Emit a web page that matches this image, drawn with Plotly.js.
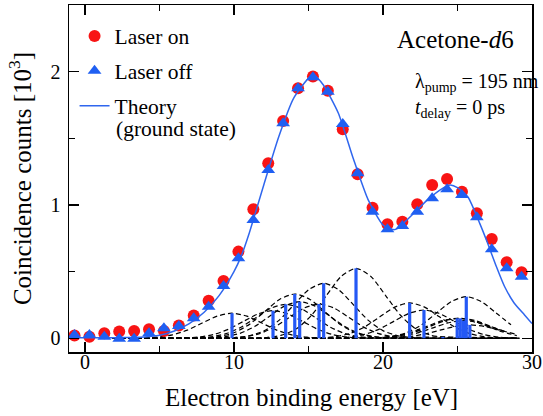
<!DOCTYPE html>
<html><head><meta charset="utf-8">
<script src="https://cdn.plot.ly/plotly-3.0.1.min.js"></script>
<style>html,body{margin:0;padding:0;background:#fff}#chart{width:543px;height:416px}</style>
</head><body><div id="chart"></div>
<script>
// Measured data (electron binding energy in eV, counts in 10^3)
const energy = [-0.7,0.3,1.3,2.3,3.3,4.3,5.3,6.3,7.3,8.3,9.3,10.3,11.3,12.3,13.3,14.3,15.3,16.3,17.3,18.3,19.3,20.3,21.3,22.3,23.3,24.3,25.3,26.3,27.3,28.3,29.3];
const laserOn = [0.02,0.012,0.038,0.05,0.055,0.068,0.055,0.095,0.17,0.282,0.43,0.65,0.968,1.313,1.63,1.875,1.963,1.857,1.568,1.23,0.98,0.855,0.875,1.005,1.15,1.195,1.1,0.938,0.745,0.57,0.495];
const laserOff = [0.025,0.025,0.012,-0.004,-0.004,0.038,0.075,0.092,0.15,0.237,0.392,0.6,0.887,1.263,1.613,1.875,1.958,1.85,1.608,1.238,0.95,0.818,0.842,0.95,1.05,1.118,1.075,0.908,0.668,0.525,0.462];
// Theory (ground state) curve
const theoryE = [-1.07,0,1,2,3,4,5,6,7,8,9,10,10.5,11,12,13,14,15,15.4,16,17,18,19,20,20.7,21,22,23,24,24.5,25,25.7,26.5,27,27.6,28.15,28.8,29.5,30];
const theoryCounts = [0.003,0.003,0.003,0.004,0.006,0.01,0.022,0.055,0.11,0.195,0.32,0.5,0.62,0.78,1.15,1.51,1.8,1.95,1.97,1.9,1.69,1.35,1.04,0.85,0.815,0.825,0.93,1.04,1.125,1.15,1.13,1.06,0.86,0.72,0.54,0.39,0.265,0.175,0.11];
// Theoretical ionisation lines (sticks)
const stickE = [9.87,12.62,13.47,14.08,14.41,15.71,16.02,18.19,21.79,22.75,24.02,24.98,25.19,25.41,25.59,25.83];
const stickH = [0.188,0.207,0.255,0.332,0.275,0.257,0.413,0.525,0.265,0.212,0.01,0.15,0.15,0.132,0.312,0.1];
// Normalised line shape of one broadened component
const profileOffset = [-8.5,-7,-6,-5,-4,-3,-2,-1,0,1,2,3,4,5,6,7,8.5];
const profileRel = [0,0.002,0.011,0.044,0.135,0.325,0.607,0.883,1,0.883,0.607,0.325,0.135,0.044,0.011,0.002,0];
const componentRange = [1.3,29.15];
const xTickVals = [0,10,20,30];
const yTickVals = [0,1,2];

const FONT = 'Liberation Serif';
const traces = [];

// dashed component curves
stickE.forEach((c,i) => {
  const xs = [], ys = [];
  xs.push(componentRange[0]); ys.push(0);
  profileOffset.forEach((o,k) => {
    const x = c + o;
    if (x > componentRange[0] && x <= componentRange[1]) { xs.push(x); ys.push(stickH[i]*profileRel[k]); }
  });
  if (c + profileOffset[profileOffset.length-1] <= componentRange[1]) { xs.push(componentRange[1]); ys.push(0); }
  traces.push({x: xs, y: ys, type:'scatter', mode:'lines', showlegend:false, hoverinfo:'skip',
    line:{color:'#000', width:1.2, dash:'5px,3px', shape:'spline', smoothing:0.7}});
});

// sticks
const sx = [], sy = [];
stickE.forEach((c,i) => { sx.push(c, c, null); sy.push(0, stickH[i], null); });
traces.push({x: sx, y: sy, type:'scatter', mode:'lines', showlegend:false, hoverinfo:'skip',
  line:{color:'#2458f5', width:3.2}});

traces.push({x: energy, y: laserOn, type:'scatter', mode:'markers', name:'Laser on', legendgroup:'a', legendrank:1,
  marker:{symbol:'circle', size:12, color:'#f81414'}});
traces.push({x: theoryE, y: theoryCounts, type:'scatter', mode:'lines', name:'Theory', legendgroup:'c', legendrank:3,
  line:{color:'#2f66ee', width:1.5, shape:'spline', smoothing:0.6}});
traces.push({x: energy, y: laserOff, type:'scatter', mode:'markers', name:'Laser off', legendgroup:'b', legendrank:2,
  marker:{symbol:'triangle-up', size:12, color:'#1f5ff2'}});

const axisCommon = {showline:true, linecolor:'#000', linewidth:1.5, mirror:'ticks', ticks:'inside',
  ticklen:10, tickwidth:1.3, tickcolor:'#000', showgrid:false, zeroline:false,
  tickfont:{family:FONT, size:20, color:'#000'}};

const layout = {
  width:543, height:416,
  margin:{l:69, r:10.5, t:5, b:64},
  paper_bgcolor:'#fff', plot_bgcolor:'#fff',
  font:{family:FONT, color:'#000'},
  xaxis: Object.assign({}, axisCommon, {range:[-1.07,30], tickvals:xTickVals, ticklabelstandoff:-9,
    minor:{dtick:5, ticks:'inside', ticklen:6, tickwidth:1.3, tickcolor:'#000'}}),
  yaxis: Object.assign({}, axisCommon, {range:[-0.103,2.5], tickvals:yTickVals, ticklabelstandoff:3,
    minor:{dtick:0.5, ticks:'inside', ticklen:6, tickwidth:1.3, tickcolor:'#000'},
    title:{text:'Coincidence counts [10<sup>3</sup>]', font:{family:FONT, size:25, color:'#000'}, standoff:12}}),
  legend:{x:0.012, y:0.97, xanchor:'left', yanchor:'top', bgcolor:'rgba(0,0,0,0)',
    font:{family:FONT, size:21.5, color:'#000'}, traceorder:'grouped', tracegroupgap:4, valign:'top'},
  annotations:[
    {text:'Electron binding energy [eV]', xref:'paper', yref:'paper', x:0.524, y:-0.1297, xanchor:'center', yanchor:'middle', showarrow:false,
      font:{family:FONT, size:25, color:'#000'}},
    {text:'(ground state)', xref:'paper', yref:'paper', x:0.097, y:0.6427, xanchor:'left', yanchor:'middle', showarrow:false,
      font:{family:FONT, size:21.5, color:'#000'}},
    {text:'Acetone-<i>d</i>6', xref:'paper', yref:'paper', x:0.966, y:0.9, xanchor:'right', yanchor:'middle', showarrow:false,
      font:{family:FONT, size:25, color:'#000'}},
    {text:'λ<sub>pump</sub> = 195 nm', xref:'paper', yref:'paper', x:0.742, y:0.777, xanchor:'left', yanchor:'middle', showarrow:false,
      font:{family:FONT, size:20, color:'#000'}},
    {text:'<i>t</i><sub>delay</sub> = 0 ps', xref:'paper', yref:'paper', x:0.742, y:0.703, xanchor:'left', yanchor:'middle', showarrow:false,
      font:{family:FONT, size:20, color:'#000'}}
  ]
};
Plotly.newPlot('chart', traces, layout, {displayModeBar:false, staticPlot:true});
</script></body></html>
